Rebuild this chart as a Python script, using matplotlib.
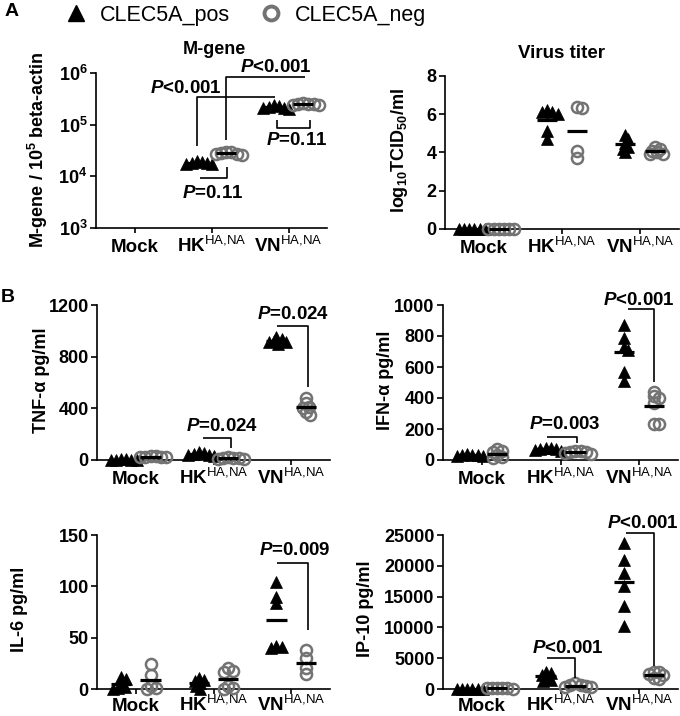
import numpy as np
import matplotlib
matplotlib.use('Agg')
import matplotlib.pyplot as plt
from matplotlib.lines import Line2D
from matplotlib.ticker import FixedLocator, NullLocator, FuncFormatter, LogFormatterSciNotation

plt.rcParams['font.family'] = ['Liberation Sans', 'DejaVu Sans']
plt.rcParams['mathtext.fontset'] = 'custom'
plt.rcParams['mathtext.rm'] = 'Liberation Sans'
plt.rcParams['mathtext.bf'] = 'Liberation Sans:bold'
plt.rcParams['mathtext.it'] = 'Liberation Sans:italic:bold'
plt.rcParams['mathtext.default'] = 'regular'

# ---------------- data ----------------
groups = ['Mock', 'HK', 'VN']
xlabels = ['Mock', r'HK$^{\mathrm{HA{,}NA}}$', r'VN$^{\mathrm{HA{,}NA}}$']
legend_labels = ['CLEC5A_pos', 'CLEC5A_neg']

mgene_pos = [[], [1.7e4, 1.8e4, 1.9e4, 1.75e4, 1.85e4, 2.0e4], [2.0e5, 2.1e5, 2.2e5, 2.3e5, 2.1e5, 2.4e5]]
mgene_neg = [[], [2.6e4, 2.7e4, 2.8e4, 2.9e4, 3.0e4, 2.75e4], [2.4e5, 2.5e5, 2.6e5, 2.5e5, 2.45e5, 2.55e5]]

titer_pos = [[0, 0, 0, 0, 0, 0], [6.2, 6.1, 6.1, 6.0, 5.1, 4.7], [4.9, 4.7, 4.5, 4.3, 4.2, 4.0]]
titer_neg = [[0, 0, 0, 0, 0, 0], [6.4, 6.35, 4.1, 3.7], [4.3, 4.2, 4.1, 4.0, 3.9, 3.9]]

tnf_pos = [[0, 2, 5, 8, 3, 1], [30, 45, 55, 60, 40, 35], [900, 910, 920, 935, 950, 915]]
tnf_neg = [[20, 25, 30, 22, 28, 26], [10, 15, 20, 12, 18, 8], [480, 440, 410, 400, 370, 350]]

ifn_pos = [[25, 30, 35, 28, 32, 40], [60, 70, 75, 80, 65, 72], [870, 790, 730, 710, 570, 510]]
ifn_neg = [[10, 30, 50, 70, 60, 20], [40, 50, 60, 45, 55, 50], [440, 410, 400, 370, 230, 230]]

il6_pos = [[12, 10, 5, 2, 1, 0], [11, 9, 8, 6, 3, 0], [104, 90, 84, 42, 41, 40]]
il6_neg = [[24, 14, 3, 1, 0], [20, 18, 17, 3, 1, 0], [38, 30, 20, 15]]

ip10_pos = [[0, 0, 0, 0, 0, 0], [2800, 2600, 2200, 1900, 1500, 1300], [23700, 21000, 18900, 16700, 13400, 10200]]
ip10_neg = [[100, 80, 120, 90, 110, 100], [900, 700, 600, 500, 400, 300], [2800, 2700, 2500, 2200, 1800, 1700]]

# ---------------- figure ----------------
W, H = 680, 716
fig = plt.figure(figsize=(W / 100, H / 100), dpi=100)

def rect(x0, x1, ytop, ybot):
    return [x0 / W, 1 - ybot / H, (x1 - x0) / W, (ybot - ytop) / H]

GRAY = '#737373'
OFF = 0.19

def swarm(ax, xc, vals, r=4.6, step=1.3):
    vals = np.asarray(vals, dtype=float)
    if len(vals) == 0:
        return np.array([])
    pts = ax.transData.transform(np.column_stack([np.full(len(vals), xc), vals]))
    ypx = pts[:, 1]
    ppu = ax.transData.transform((1, vals[0]))[0] - ax.transData.transform((0, vals[0]))[0]
    placed = []
    res = np.zeros(len(vals))
    for i in np.argsort(-vals, kind='stable'):
        k = 0
        found = None
        while found is None:
            cands = [0.0] if k == 0 else [k * step, -k * step]
            for c in cands:
                if all(np.hypot(c - px, ypx[i] - py) >= r for px, py in placed):
                    found = c
                    break
            k += 1
        placed.append((found, ypx[i]))
        res[i] = xc + found / ppu
    return res

def setup(ax, ylim, yticks, log=False, xoff=-17.5):
    ax.spines['top'].set_visible(False)
    ax.spines['right'].set_visible(False)
    for s in ['left', 'bottom']:
        ax.spines[s].set_linewidth(1.2)
    ax.set_xlim(0.5, 3.5)
    if log:
        ax.set_yscale('log')
        ax.set_ylim(*ylim)
        ax.yaxis.set_major_locator(FixedLocator(yticks))
        ax.yaxis.set_minor_locator(NullLocator())
        ax.yaxis.set_major_formatter(LogFormatterSciNotation())
    else:
        ax.set_ylim(*ylim)
        ax.yaxis.set_major_locator(FixedLocator(yticks))
        ax.yaxis.set_major_formatter(FuncFormatter(lambda v, p: f'{int(round(v))}'))
    ax.set_xticks([1, 2, 3])
    ax.set_xticklabels([])
    ax.tick_params(axis='y', direction='out', length=4.5, width=1.2, pad=1.5, labelsize=13)
    ax.tick_params(axis='x', direction='out', length=3.5, width=1.2)
    for lab in ax.get_yticklabels():
        lab.set_fontweight('bold')
    for i, lab in enumerate(xlabels):
        ax.annotate(lab, xy=(i + 1, 0), xycoords=('data', 'axes fraction'),
                    xytext=(0, xoff), textcoords='offset points', ha='center', va='baseline',
                    fontsize=13.5, fontweight='bold', annotation_clip=False)

def draw_groups(ax, pos, neg):
    for i in range(3):
        xc = i + 1
        if len(pos[i]):
            xs = swarm(ax, xc - OFF, pos[i])
            ax.plot(xs, pos[i], linestyle='none', marker='^', ms=9, mfc='black', mec='black',
                    mew=0.5, clip_on=False, zorder=3)
            ax.hlines(np.mean(pos[i]), xc - OFF - 0.13, xc - OFF + 0.13, colors='black', lw=2.3,
                      zorder=5, clip_on=False)
        if len(neg[i]):
            xs = swarm(ax, xc + OFF, neg[i])
            ax.plot(xs, neg[i], linestyle='none', marker='o', ms=8, mfc='none', mec=GRAY,
                    mew=1.8, clip_on=False, zorder=3)
            ax.hlines(np.mean(neg[i]), xc + OFF - 0.13, xc + OFF + 0.13, colors='black', lw=2.3,
                      zorder=5, clip_on=False)

def bracket(ax, xs, ys, text, tx, ty):
    ax.plot(xs, ys, color='black', lw=1.2, clip_on=False, zorder=4, solid_capstyle='butt')
    ax.text(tx, ty, text, ha='center', va='center', fontsize=13.5, fontweight='bold', clip_on=False)

# Panel A left: M-gene
axA1 = fig.add_axes(rect(96, 327, 73, 228))
setup(axA1, (1e3, 1e6), [1e3, 1e4, 1e5, 1e6], log=True)
draw_groups(axA1, mgene_pos, mgene_neg)
bracket(axA1, [1.81, 1.81, 2.82], [3.85e4, 3.4e5, 3.4e5], r'$\mathit{P}$<0.001', 1.67, 5.1e5)
bracket(axA1, [2.19, 2.19, 3.21], [5.0e4, 8.3e5, 8.3e5], r'$\mathit{P}$<0.001', 2.84, 1.3e6)
bracket(axA1, [2.85, 2.85, 3.28, 3.28], [1.23e5, 8.6e4, 8.6e4, 1.23e5], r'$\mathit{P}$=0.11', 3.11, 5.0e4)
bracket(axA1, [1.85, 2.20, 2.20], [9.3e3, 9.3e3, 1.5e4], r'$\mathit{P}$=0.11', 2.02, 4.7e3)

# Panel A right: Virus titer
axA2 = fig.add_axes(rect(445, 679, 76, 229))
setup(axA2, (0, 8), [0, 2, 4, 6, 8])
draw_groups(axA2, titer_pos, titer_neg)

# Panel B: TNF
axT = fig.add_axes(rect(97, 330, 305, 460))
setup(axT, (0, 1200), [0, 400, 800, 1200])
draw_groups(axT, tnf_pos, tnf_neg)
bracket(axT, [1.86, 2.22, 2.22], [170, 170, 93], r'$\mathit{P}$=0.024', 2.11, 256)
bracket(axT, [2.82, 3.22, 3.22], [1040, 1040, 566], r'$\mathit{P}$=0.024', 3.02, 1124)

# IFN
axI = fig.add_axes(rect(443, 678, 305, 460))
setup(axI, (0, 1000), [0, 200, 400, 600, 800, 1000])
draw_groups(axI, ifn_pos, ifn_neg)
bracket(axI, [1.83, 2.21, 2.21], [150, 150, 110], r'$\mathit{P}$=0.003', 2.06, 226)
bracket(axI, [2.86, 3.19, 3.19], [975, 975, 505], r'$\mathit{P}$<0.001', 3.0, 1032)

# IL-6
axL = fig.add_axes(rect(97, 330, 535, 689))
setup(axL, (0, 150), [0, 50, 100, 150], xoff=-15.5)
draw_groups(axL, il6_pos, il6_neg)
bracket(axL, [2.82, 3.22, 3.22], [123, 123, 57], r'$\mathit{P}$=0.009', 3.05, 135)

# IP-10
axP = fig.add_axes(rect(443, 678, 535, 689))
setup(axP, (0, 25000), [0, 5000, 10000, 15000, 20000, 25000], xoff=-15.5)
draw_groups(axP, ip10_pos, ip10_neg)
bracket(axP, [1.83, 2.19, 2.19], [5000, 5000, 1800], r'$\mathit{P}$<0.001', 2.09, 6600)
bracket(axP, [2.83, 3.19, 3.19], [25300, 25300, 3700], r'$\mathit{P}$<0.001', 3.05, 26900)

# y labels
def ylab(x, y, s):
    fig.text(x / W, 1 - y / H, s, rotation=90, ha='center', va='center', fontsize=13, fontweight='bold')

ylab(38, 150, r'M-gene / 10$^{\mathbf{5}}$ beta-actin')
ylab(400, 150, r'log$_{\mathbf{10}}$TCID$_{\mathbf{50}}$/ml')
ylab(42, 380, r'TNF-α pg/ml')
ylab(385, 380, r'IFN-α pg/ml')
ylab(20, 609, r'IL-6 pg/ml')
ylab(365, 609, r'IP-10 pg/ml')

# titles
fig.text(214 / W, 1 - 50 / H, 'M-gene', ha='center', va='center', fontsize=13, fontweight='bold')
fig.text(562 / W, 1 - 54 / H, 'Virus titer', ha='center', va='center', fontsize=13.5, fontweight='bold')

# panel letters
fig.text(12 / W, 1 - 12 / H, 'A', ha='center', va='center', fontsize=14, fontweight='bold')
fig.text(8 / W, 1 - 298 / H, 'B', ha='center', va='center', fontsize=14, fontweight='bold')

# legend
handles = [Line2D([], [], linestyle='none', marker='^', ms=11, mfc='black', mec='black'),
           Line2D([], [], linestyle='none', marker='o', ms=10, mfc='none', mec=GRAY, mew=2.8)]
fig.legend(handles, legend_labels, loc='center left', bbox_to_anchor=(63 / W, 1 - 15 / H),
           ncol=2, frameon=False, fontsize=15.5, handlelength=1.2, handletextpad=0.5,
           columnspacing=1.32, borderaxespad=0, borderpad=0)

fig.savefig('out.png', dpi=100)
